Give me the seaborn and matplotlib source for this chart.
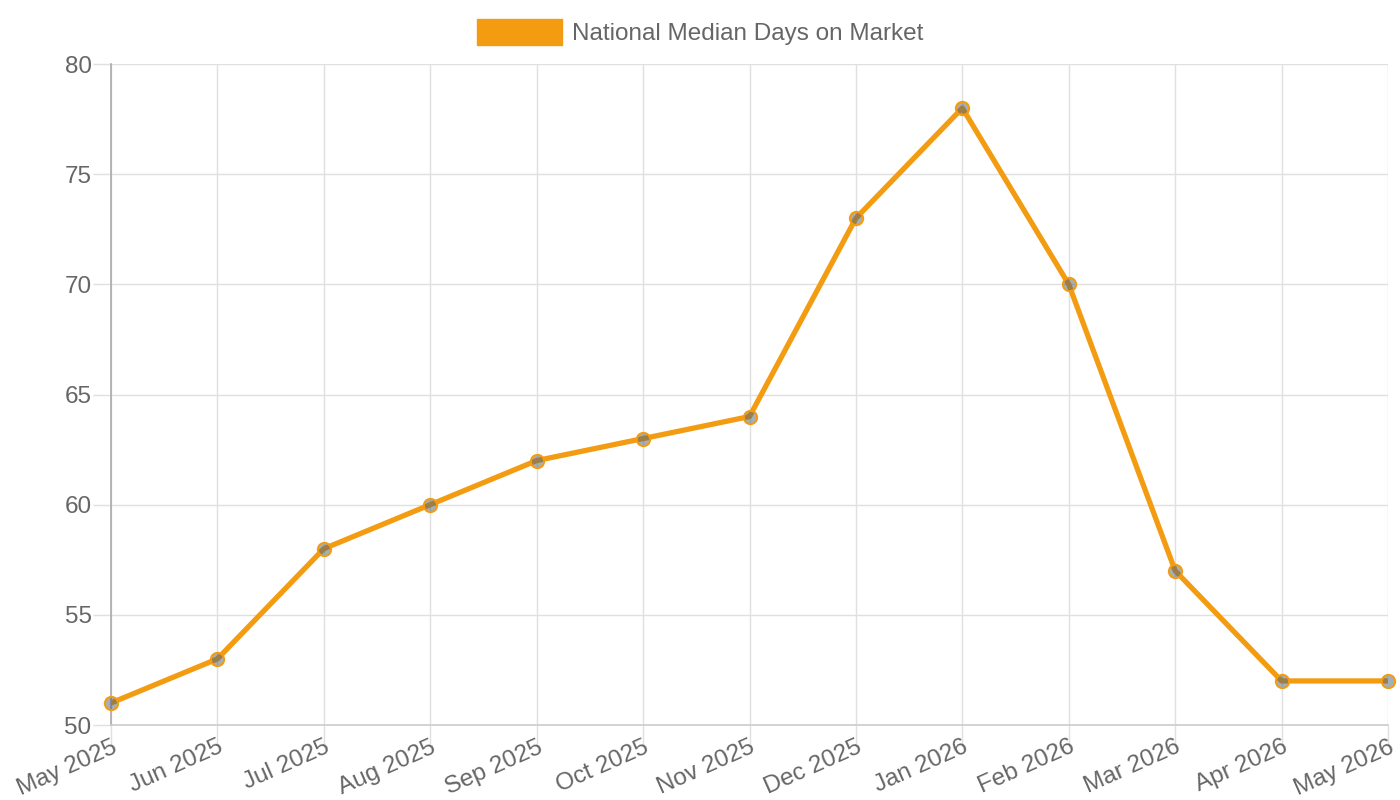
import matplotlib
matplotlib.use("Agg")
import matplotlib.pyplot as plt
import seaborn as sns
from matplotlib.patches import Patch

months = ["May 2025", "Jun 2025", "Jul 2025", "Aug 2025", "Sep 2025", "Oct 2025",
          "Nov 2025", "Dec 2025", "Jan 2026", "Feb 2026", "Mar 2026", "Apr 2026", "May 2026"]
median_days = [51, 53, 58, 60, 62, 63, 64, 73, 78, 70, 57, 52, 52]
y_ticks = [50, 55, 60, 65, 70, 75, 80]

orange = "#f39c12"
text_col = "#666666"
grid_col = "#e0e0e0"

sns.set_theme(style="white")
plt.rcParams["font.family"] = ["Liberation Sans", "DejaVu Sans"]

fig = plt.figure(figsize=(14, 8), dpi=100)
ax = fig.add_axes([111 / 1400, 75 / 800, 1277 / 1400, 661 / 800])

x = list(range(len(months)))
sns.lineplot(x=x, y=median_days, ax=ax, color=orange, linewidth=3.8, zorder=3)
ax.plot(x, median_days, linestyle="none", marker="o", markersize=9.5,
        markerfacecolor=(75 / 255, 97 / 255, 119 / 255, 0.5),
        markeredgecolor=orange, markeredgewidth=1.5, zorder=4, clip_on=False)

ax.set_xlim(0, len(months) - 1)
ax.set_ylim(50, 80)
ax.set_xticks(x)
ax.set_xticklabels(months, rotation=24, ha="right", rotation_mode="anchor")
ax.set_yticks(y_ticks)
ax.tick_params(axis="both", labelsize=17.5, labelcolor=text_col,
               color=grid_col, width=1, left=True, bottom=True)
ax.tick_params(axis="x", length=14, pad=-6)
ax.tick_params(axis="y", length=13, pad=1)
ax.grid(True, color=grid_col, linewidth=1)
ax.set_axisbelow(True)

for s in ["top", "right"]:
    ax.spines[s].set_visible(False)
ax.spines["left"].set_color("#aaaaaa")
ax.spines["bottom"].set_color("#cccccc")
ax.spines["left"].set_linewidth(1.2)
ax.spines["bottom"].set_linewidth(1.2)
ax.set_xlabel("")
ax.set_ylabel("")

handle = Patch(facecolor=orange, edgecolor=orange)
fig.legend([handle], ["National Median Days on Market"], loc="center",
           bbox_to_anchor=(0.5, 1 - 32 / 800), frameon=False, fontsize=17.5,
           labelcolor=text_col, handlelength=3.5, handleheight=1.25, handletextpad=0.4)

fig.savefig("out.png", dpi=100)
